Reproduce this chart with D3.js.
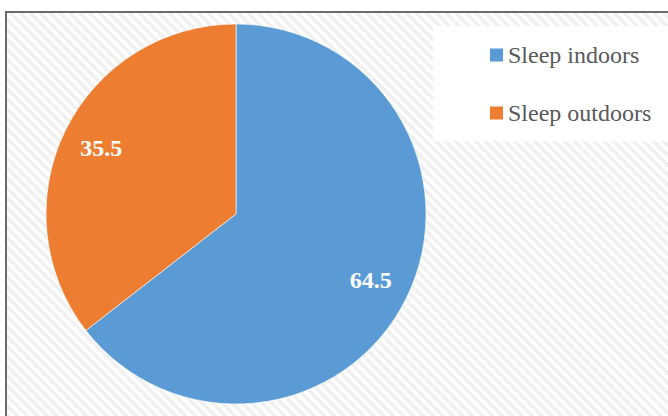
<!DOCTYPE html>
<html>
<head>
<meta charset="utf-8">
<script src="https://cdn.jsdelivr.net/npm/d3@7"></script>
<style>
  html, body { margin: 0; padding: 0; background: #fff; }
  svg { display: block; }
</style>
</head>
<body>
<svg id="chart" width="668" height="416"></svg>
<script>
// Share of respondents by sleeping place (percent)
const categories = ["Sleep indoors", "Sleep outdoors"];
const values = [64.5, 35.5];
const colors = ["#5B9BD5", "#ED7D31"];

const W = 668, H = 416;
const svg = d3.select("#chart");

// diagonal hatch fill for the chart area
const defs = svg.append("defs");
const pat = defs.append("pattern")
  .attr("id", "hatch")
  .attr("patternUnits", "userSpaceOnUse")
  .attr("width", 7).attr("height", 7)
  .attr("patternTransform", "rotate(45)");
pat.append("rect").attr("width", 7).attr("height", 7).attr("fill", "#ffffff");
pat.append("rect").attr("x", 0).attr("y", 0).attr("width", 7).attr("height", 3.5).attr("fill", "#f0f0f0");

svg.append("rect").attr("width", W).attr("height", H).attr("fill", "#fff");
svg.append("rect")
  .attr("x", 6).attr("y", 12)
  .attr("width", W + 20).attr("height", H + 20)
  .attr("fill", "url(#hatch)")
  .attr("stroke", "#6b6b6b").attr("stroke-width", 2);

// pie
const cx = 236, cy = 214, r = 190;
const pie = d3.pie().sort(null).value(d => d)(values);
const arc = d3.arc().innerRadius(0).outerRadius(r);
const labelArc = d3.arc().innerRadius(r * 0.79).outerRadius(r * 0.79);

const g = svg.append("g").attr("transform", `translate(${cx},${cy})`);
g.selectAll("path.slice")
  .data(pie)
  .join("path")
  .attr("class", "slice")
  .attr("d", arc)
  .attr("fill", (d, i) => colors[i])
  .attr("stroke", "rgba(255,255,255,0.6)")
  .attr("stroke-width", 1);

g.selectAll("text.val")
  .data(pie)
  .join("text")
  .attr("class", "val")
  .attr("transform", d => `translate(${labelArc.centroid(d)})`)
  .attr("text-anchor", "middle")
  .attr("dy", "0.35em")
  .attr("font-family", "'Liberation Serif', 'Times New Roman', serif")
  .attr("font-weight", "bold")
  .attr("font-size", 24)
  .attr("fill", "#ffffff")
  .text(d => d.data.toFixed(1));

// legend
const legend = svg.append("g");
legend.append("rect")
  .attr("x", 433).attr("y", 26)
  .attr("width", 240).attr("height", 115)
  .attr("fill", "#ffffff");

const ly = d3.scalePoint().domain(categories).range([55, 113]);
const items = legend.selectAll("g.item")
  .data(categories)
  .join("g")
  .attr("class", "item")
  .attr("transform", d => `translate(490,${ly(d)})`);
items.append("rect")
  .attr("x", 0).attr("y", -6.5)
  .attr("width", 13).attr("height", 13)
  .attr("fill", (d, i) => colors[i]);
items.append("text")
  .attr("x", 18).attr("y", 0)
  .attr("dy", "0.35em")
  .attr("font-family", "'Liberation Serif', 'Times New Roman', serif")
  .attr("font-size", 24)
  .attr("fill", "#595959")
  .text(d => d);
</script>
</body>
</html>
